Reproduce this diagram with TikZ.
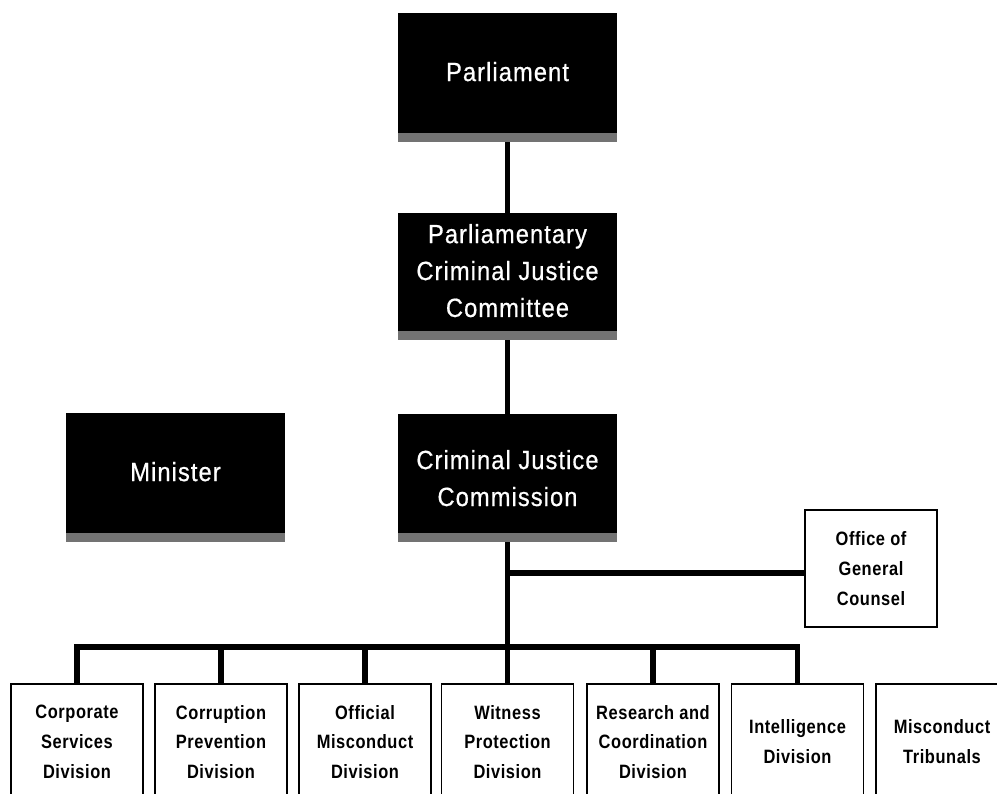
\documentclass[tikz,border=0pt]{standalone}
\usepackage{fontspec}
\setmainfont{Liberation Sans}
\newfontfamily\darkfont{Liberation Sans}[FakeStretch=0.9,LetterSpace=4,FakeBold=0.6]
\newfontfamily\lightfont{Liberation Sans}[FakeStretch=0.85,LetterSpace=3]
\usetikzlibrary{positioning}
\tikzset{
	darkbox/.style = {fill=black, text=white, align=center, minimum width=4.38cm, inner sep=0pt,
		text depth=0.24cm, font=\darkfont\fontsize{15}{21}\selectfont,
		path picture={\fill[black!55]
			([yshift=0.18cm]path picture bounding box.south west) rectangle (path picture bounding box.south east);}},
	divbox/.style = {draw, line width=0.8pt, fill=white, align=center, minimum width=2.64cm,
		minimum height=2.32cm, inner sep=0pt, font=\lightfont\bfseries\fontsize{11}{17}\selectfont},
	link/.style = {line width=3pt, line join=miter}
}

\begin{document}
\begin{tikzpicture}[x=0.02cm, y=-0.02cm]
	\clip (0,0) rectangle (997,794);

	% top of the chart
	\node[darkbox, minimum height=2.58cm] (parl) at (507.5,77.5) {Parliament};
	\node[darkbox, minimum height=2.54cm] (pcjc) at (507.5,276.5) {Parliamentary\\Criminal Justice\\Committee};
	\node[darkbox, minimum height=2.56cm, text depth=0pt] (cjc) at (507.5,478) {Criminal Justice\\Commission};
	\node[darkbox, minimum height=2.58cm] (minister) at (175.5,477.5) {Minister};
	\node[divbox, minimum height=2.34cm] (ogc) at (871,568.5) {Office of\\General\\Counsel};

	% divisions
	\foreach \name/\xpos/\label in {
			corp/77/{Corporate\\Services\\Division},
			corrupt/221/{Corruption\\Prevention\\Division},
			official/365/{Official\\Misconduct\\Division},
			witness/507.5/{Witness\\Protection\\Division},
			research/653/{Research and\\Coordination\\Division},
			intel/797.5/{Intelligence\\Division},
			tribunal/942/{Misconduct\\Tribunals}}
		\node[divbox] (\name) at (\xpos,742) {\label};

	\coordinate (ogcjoin) at (507.5,573);
	\coordinate (hub) at (507.5,647);

	\draw[link] (parl) -- (pcjc);
	\draw[link] (pcjc) -- (cjc);
	\draw[link] (cjc) -- (witness);
	\draw[link] (ogcjoin) -- (ogcjoin -| ogc.west);
	\draw[link] (corp.north) -- (corp.north |- hub) -- (intel.north |- hub) -- (intel.north);
	\foreach \name in {corrupt, official, research}
		\draw[link] (\name.north) -- (\name.north |- hub);
\end{tikzpicture}
\end{document}
